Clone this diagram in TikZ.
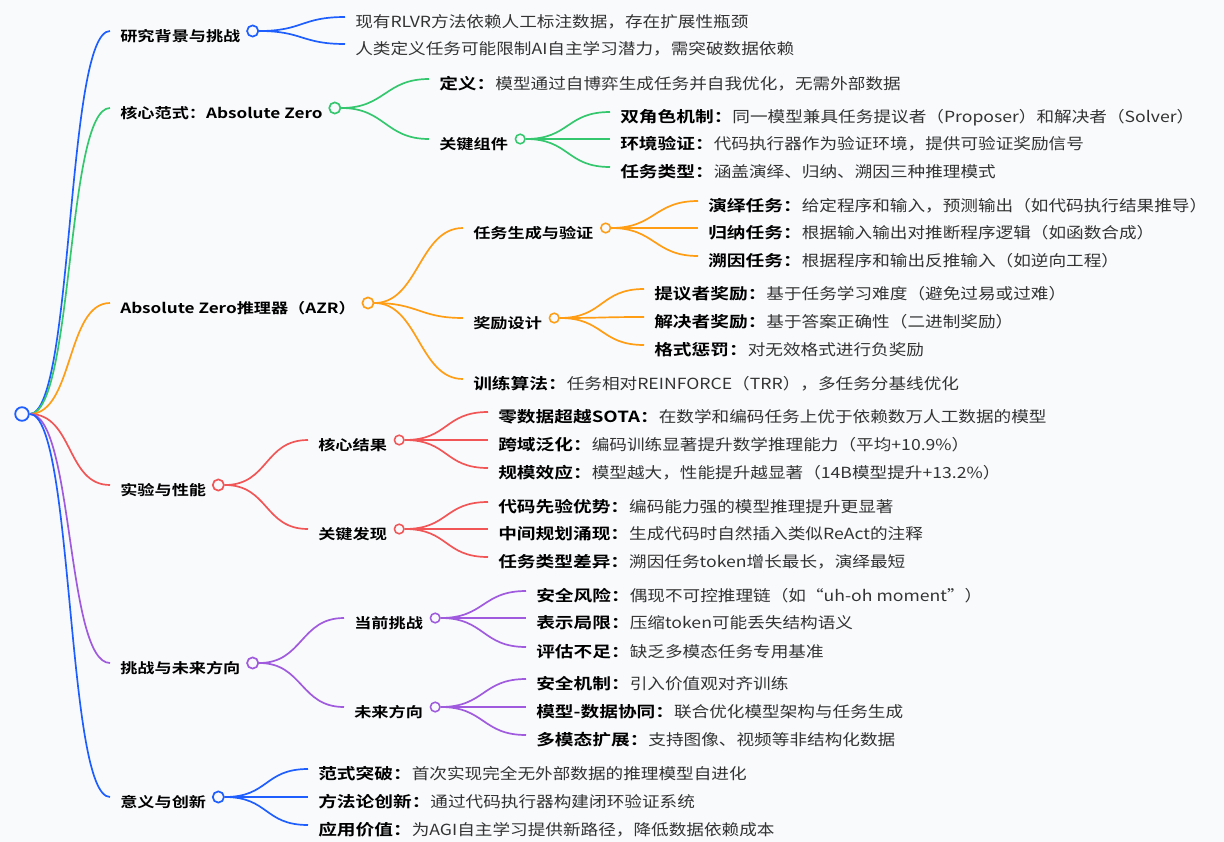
\documentclass[tikz,border=0pt]{standalone}
\usepackage{fontspec}
\setmainfont{Noto Sans CJK SC}[FakeStretch=1.15]
\newfontfamily\boldcjk{Noto Sans CJK SC Bold}[FakeStretch=1.22]
\definecolor{bgc}{RGB}{248,250,252}
\definecolor{mmblue}{RGB}{30,94,255}
\definecolor{mmgreen}{RGB}{52,199,110}
\definecolor{mmorange}{RGB}{255,157,20}
\definecolor{mmred}{RGB}{242,85,85}
\definecolor{mmpurple}{RGB}{160,90,222}
\definecolor{leafgray}{RGB}{51,51,51}
\newcommand{\keyterm}[1]{{\color{black}\boldcjk #1}}
\tikzset{
    rootdot/.style = {circle, draw=mmblue, fill=bgc, line width=1.3pt, minimum size=0.34cm, inner sep=0},
    dot/.style = {circle, draw=#1, fill=bgc, line width=1.2pt, minimum size=0.28cm, inner sep=0},
    subdot/.style = {circle, draw=#1, fill=bgc, line width=1.1pt, minimum size=0.24cm, inner sep=0},
    topic/.style = {anchor=west, inner xsep=0.25cm, inner ysep=0, text height=0.52cm, text depth=0pt, font=\boldcjk, text=black},
    leaf/.style = {anchor=west, inner xsep=0.25cm, inner ysep=0, text height=0.52cm, text depth=0pt, text=leafgray},
    link/.style = {draw=#1, line width=1.2pt, to path={.. controls +(44,0) and +(-44,0) .. (\tikztotarget)}}
}
\begin{document}
\begin{tikzpicture}[x=0.025cm, y=-0.025cm, font=\fontsize{10.9pt}{13pt}\selectfont]

    \fill[bgc] (0,0) rectangle (1224,842);
    \useasboundingbox (0,0) rectangle (1224,842);

    \node[rootdot] (root) at (22,414) {};

    % research background
    \node[topic] (bg) at (110,31) {研究背景与挑战};
    \node[dot=mmblue] (bg-o) at ([xshift=0.05cm]bg.east) {};
    \node[leaf] (bg-1) at (345,17) {现有RLVR方法依赖人工标注数据，存在扩展性瓶颈};
    \node[leaf] (bg-2) at (345,44) {人类定义任务可能限制AI自主学习潜力，需突破数据依赖};

    % core paradigm
    \node[topic] (core) at (110,108) {核心范式：Absolute Zero};
    \node[dot=mmgreen] (core-o) at ([xshift=0.05cm]core.east) {};
    \node[leaf] (core-def) at (429,79) {\keyterm{定义：}模型通过自博弈生成任务并自我优化，无需外部数据};
    \node[topic] (comp) at (429,139) {关键组件};
    \node[subdot=mmgreen] (comp-o) at ([xshift=0.05cm]comp.east) {};
    \node[leaf] (comp-1) at (610,112) {\keyterm{双角色机制：}同一模型兼具任务提议者（Proposer）和解决者（Solver）};
    \node[leaf] (comp-2) at (610,139) {\keyterm{环境验证：}代码执行器作为验证环境，提供可验证奖励信号};
    \node[leaf] (comp-3) at (610,167) {\keyterm{任务类型：}涵盖演绎、归纳、溯因三种推理模式};

    % AZR
    \node[topic] (azr) at (110,303) {Absolute Zero推理器（AZR）};
    \node[dot=mmorange] (azr-o) at ([xshift=0.05cm]azr.east) {};
    \node[topic] (gen) at (463,228) {任务生成与验证};
    \node[subdot=mmorange] (gen-o) at ([xshift=0.05cm]gen.east) {};
    \node[leaf] (gen-1) at (698,201) {\keyterm{演绎任务：}给定程序和输入，预测输出（如代码执行结果推导）};
    \node[leaf] (gen-2) at (698,228) {\keyterm{归纳任务：}根据输入输出对推断程序逻辑（如函数合成）};
    \node[leaf] (gen-3) at (698,256) {\keyterm{溯因任务：}根据程序和输出反推输入（如逆向工程）};
    \node[topic] (rew) at (463,318) {奖励设计};
    \node[subdot=mmorange] (rew-o) at ([xshift=0.05cm]rew.east) {};
    \node[leaf] (rew-1) at (644,289) {\keyterm{提议者奖励：}基于任务学习难度（避免过易或过难）};
    \node[leaf] (rew-2) at (644,317) {\keyterm{解决者奖励：}基于答案正确性（二进制奖励）};
    \node[leaf] (rew-3) at (644,345) {\keyterm{格式惩罚：}对无效格式进行负奖励};
    \node[leaf] (trn) at (463,379) {\keyterm{训练算法：}任务相对REINFORCE（TRR），多任务分基线优化};

    % experiments
    \node[topic] (exp) at (110,485) {实验与性能};
    \node[dot=mmred] (exp-o) at ([xshift=0.05cm]exp.east) {};
    \node[topic] (res) at (308,440) {核心结果};
    \node[subdot=mmred] (res-o) at ([xshift=0.05cm]res.east) {};
    \node[leaf] (res-1) at (488,412) {\keyterm{零数据超越SOTA：}在数学和编码任务上优于依赖数万人工数据的模型};
    \node[leaf] (res-2) at (488,440) {\keyterm{跨域泛化：}编码训练显著提升数学推理能力（平均+10.9\%）};
    \node[leaf] (res-3) at (488,468) {\keyterm{规模效应：}模型越大，性能提升越显著（14B模型提升+13.2\%）};
    \node[topic] (fnd) at (308,529) {关键发现};
    \node[subdot=mmred] (fnd-o) at ([xshift=0.05cm]fnd.east) {};
    \node[leaf] (fnd-1) at (488,502) {\keyterm{代码先验优势：}编码能力强的模型推理提升更显著};
    \node[leaf] (fnd-2) at (488,529) {\keyterm{中间规划涌现：}生成代码时自然插入类似ReAct的注释};
    \node[leaf] (fnd-3) at (488,557) {\keyterm{任务类型差异：}溯因任务token增长最长，演绎最短};

    % challenges
    \node[topic] (chal) at (110,663) {挑战与未来方向};
    \node[dot=mmpurple] (chal-o) at ([xshift=0.05cm]chal.east) {};
    \node[topic] (cur) at (344,618) {当前挑战};
    \node[subdot=mmpurple] (cur-o) at ([xshift=0.05cm]cur.east) {};
    \node[leaf] (cur-1) at (526,591) {\keyterm{安全风险：}偶现不可控推理链（如“uh-oh moment”）};
    \node[leaf] (cur-2) at (526,618) {\keyterm{表示局限：}压缩token可能丢失结构语义};
    \node[leaf] (cur-3) at (526,647) {\keyterm{评估不足：}缺乏多模态任务专用基准};
    \node[topic] (fut) at (344,707) {未来方向};
    \node[subdot=mmpurple] (fut-o) at ([xshift=0.05cm]fut.east) {};
    \node[leaf] (fut-1) at (526,679) {\keyterm{安全机制：}引入价值观对齐训练};
    \node[leaf] (fut-2) at (526,707) {\keyterm{模型-数据协同：}联合优化模型架构与任务生成};
    \node[leaf] (fut-3) at (526,735) {\keyterm{多模态扩展：}支持图像、视频等非结构化数据};

    % significance
    \node[topic] (sig) at (110,797) {意义与创新};
    \node[dot=mmblue] (sig-o) at ([xshift=0.05cm]sig.east) {};
    \node[leaf] (sig-1) at (308,769) {\keyterm{范式突破：}首次实现完全无外部数据的推理模型自进化};
    \node[leaf] (sig-2) at (308,797) {\keyterm{方法论创新：}通过代码执行器构建闭环验证系统};
    \node[leaf] (sig-3) at (308,825) {\keyterm{应用价值：}为AGI自主学习提供新路径，降低数据依赖成本};

    % connectors
    \draw[link=mmblue] (root.east) to (bg.west);
    \draw[link=mmgreen] (root.east) to (core.west);
    \draw[link=mmorange] (root.east) to (azr.west);
    \draw[link=mmred] (root.east) to (exp.west);
    \draw[link=mmpurple] (root.east) to (chal.west);
    \draw[link=mmblue] (root.east) to (sig.west);

    \draw[link=mmblue] (bg-o.east) to (bg-1.west);
    \draw[link=mmblue] (bg-o.east) to (bg-2.west);

    \draw[link=mmgreen] (core-o.east) to (core-def.west);
    \draw[link=mmgreen] (core-o.east) to (comp.west);
    \draw[link=mmgreen] (comp-o.east) to (comp-1.west);
    \draw[link=mmgreen] (comp-o.east) to (comp-2.west);
    \draw[link=mmgreen] (comp-o.east) to (comp-3.west);

    \draw[link=mmorange] (azr-o.east) to (gen.west);
    \draw[link=mmorange] (azr-o.east) to (rew.west);
    \draw[link=mmorange] (azr-o.east) to (trn.west);
    \draw[link=mmorange] (gen-o.east) to (gen-1.west);
    \draw[link=mmorange] (gen-o.east) to (gen-2.west);
    \draw[link=mmorange] (gen-o.east) to (gen-3.west);
    \draw[link=mmorange] (rew-o.east) to (rew-1.west);
    \draw[link=mmorange] (rew-o.east) to (rew-2.west);
    \draw[link=mmorange] (rew-o.east) to (rew-3.west);

    \draw[link=mmred] (exp-o.east) to (res.west);
    \draw[link=mmred] (exp-o.east) to (fnd.west);
    \draw[link=mmred] (res-o.east) to (res-1.west);
    \draw[link=mmred] (res-o.east) to (res-2.west);
    \draw[link=mmred] (res-o.east) to (res-3.west);
    \draw[link=mmred] (fnd-o.east) to (fnd-1.west);
    \draw[link=mmred] (fnd-o.east) to (fnd-2.west);
    \draw[link=mmred] (fnd-o.east) to (fnd-3.west);

    \draw[link=mmpurple] (chal-o.east) to (cur.west);
    \draw[link=mmpurple] (chal-o.east) to (fut.west);
    \draw[link=mmpurple] (cur-o.east) to (cur-1.west);
    \draw[link=mmpurple] (cur-o.east) to (cur-2.west);
    \draw[link=mmpurple] (cur-o.east) to (cur-3.west);
    \draw[link=mmpurple] (fut-o.east) to (fut-1.west);
    \draw[link=mmpurple] (fut-o.east) to (fut-2.west);
    \draw[link=mmpurple] (fut-o.east) to (fut-3.west);

    \draw[link=mmblue] (sig-o.east) to (sig-1.west);
    \draw[link=mmblue] (sig-o.east) to (sig-2.west);
    \draw[link=mmblue] (sig-o.east) to (sig-3.west);

\end{tikzpicture}
\end{document}
